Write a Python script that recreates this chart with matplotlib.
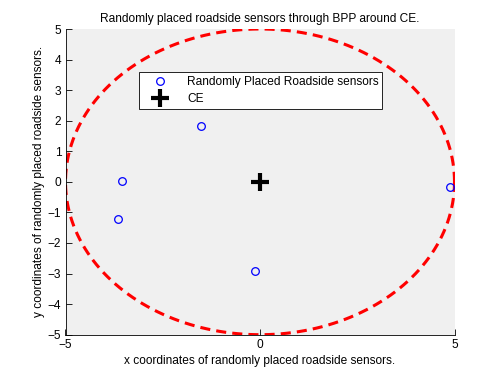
import numpy as np
import matplotlib
matplotlib.use("Agg")
import matplotlib.pyplot as plt

plt.rcParams['font.family'] = ['Liberation Sans', 'DejaVu Sans']

sensor_x = [-1.51, -3.54, -3.64, -0.12, 4.88]
sensor_y = [1.84, 0.04, -1.21, -2.93, -0.18]
ce_x = [0.0]
ce_y = [0.0]
radius = 5
ticks = [-5, -4, -3, -2, -1, 0, 1, 2, 3, 4, 5]
xticks = [-5, 0, 5]

fs = 8.6
fig = plt.figure(figsize=(5.01, 3.77), dpi=100)
ax = fig.add_axes([65.5/501, 1-334.7/377, 389/501, 305.7/377])
ax.set_facecolor('#f0f0f0')

theta = np.linspace(0, 2*np.pi, 400)
ax.plot(radius*np.cos(theta), radius*np.sin(theta), 'r--', lw=2.2, dashes=(3.3, 2.0), zorder=2)
ax.plot(sensor_x, sensor_y, 'o', mfc='none', mec='b', ms=5.5, mew=0.9,
        label='Randomly Placed Roadside sensors', zorder=3, clip_on=False)
ax.plot(ce_x, ce_y, '+', color='k', ms=13, mew=3, label='CE', zorder=3)

ax.set_xlim(-5, 5)
ax.set_ylim(-5, 5)
ax.set_xticks(xticks)
ax.set_yticks(ticks)
ax.set_xticklabels(['\u22125', '0', '5'])
ax.set_yticklabels([('\u2212' + str(-t)) if t < 0 else str(t) for t in ticks])
ax.tick_params(direction='in', length=4, width=0.6, labelsize=fs, colors='k', pad=3)
ax.tick_params(axis='x', top=False)
ax.tick_params(axis='y', right=False)
for s in ['top', 'right']:
    ax.spines[s].set_visible(False)
for s in ['left', 'bottom']:
    ax.spines[s].set_linewidth(0.6)

ax.set_title('Randomly placed roadside sensors through BPP around CE.', fontsize=fs, pad=5)
ax.set_xlabel('x coordinates of randomly placed roadside sensors.', fontsize=fs, labelpad=3)
ax.set_ylabel('y coordinates of randomly placed roadside sensors.', fontsize=fs, labelpad=2)

leg = ax.legend(loc='upper left', bbox_to_anchor=(0.19, 0.859), borderaxespad=0,
                fontsize=fs, frameon=True, fancybox=False, edgecolor='k',
                facecolor='white', framealpha=1, handlelength=2.8, handletextpad=0.9,
                borderpad=0.3, labelspacing=0.45)
leg.get_frame().set_linewidth(0.6)

fig.savefig('out.png', dpi=100)
